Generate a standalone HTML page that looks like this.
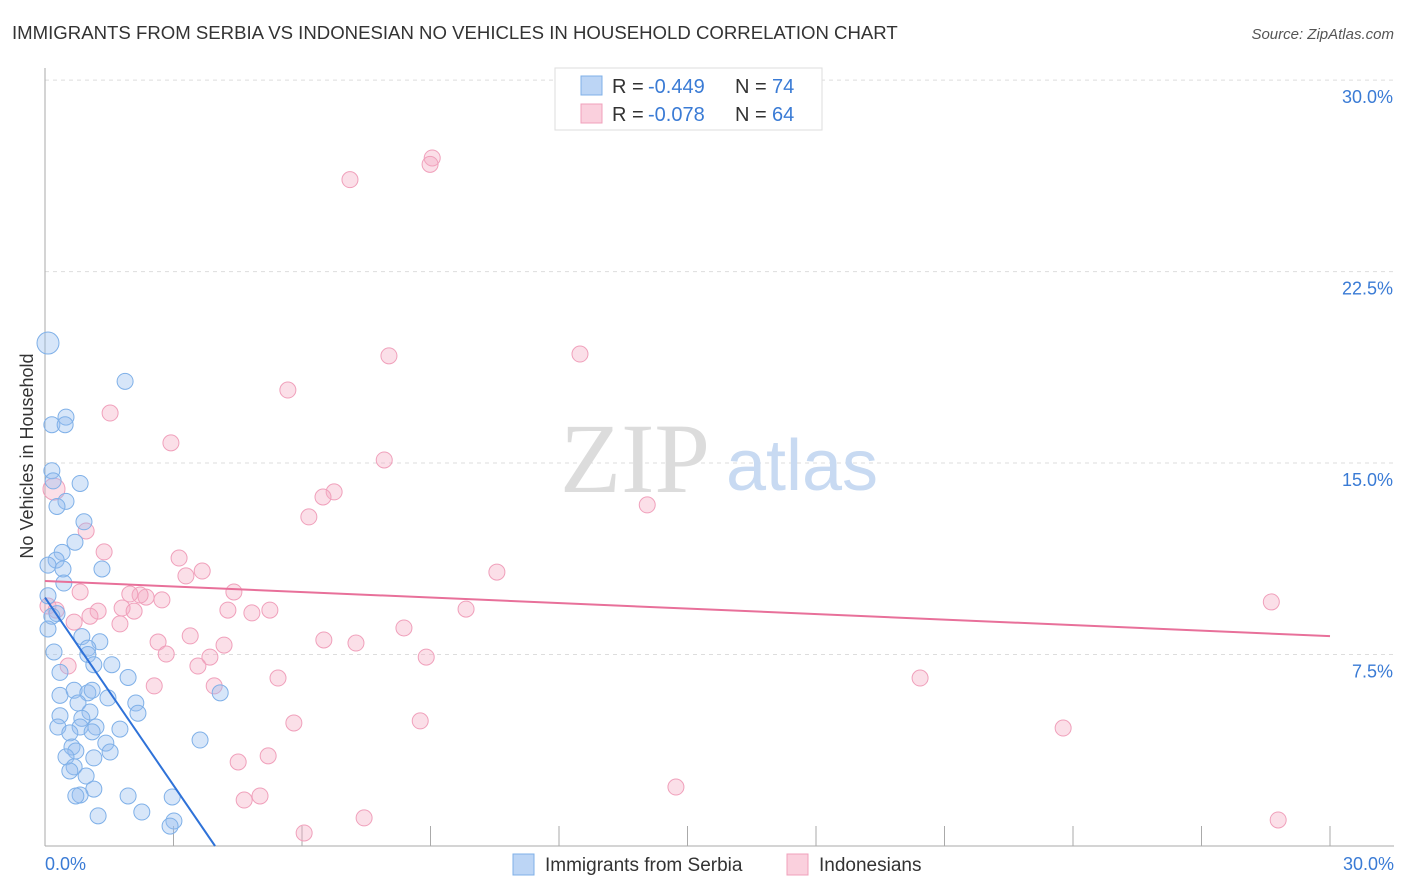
<!DOCTYPE html>
<html><head><meta charset="utf-8"><style>
body{margin:0;background:#fff;font-family:"Liberation Sans",sans-serif;}
svg{display:block}
</style></head><body>
<svg width="1406" height="892">
<text x="12" y="39" font-size="18.6" fill="#333">IMMIGRANTS FROM SERBIA VS INDONESIAN NO VEHICLES IN HOUSEHOLD CORRELATION CHART</text>
<text x="1394" y="39" font-size="15" fill="#555" font-style="italic" text-anchor="end">Source: ZipAtlas.com</text>
<text x="33" y="456" font-size="18" fill="#333" transform="rotate(-90 33 456)" text-anchor="middle">No Vehicles in Household</text>
<g id="grid"></g>
<g>
<text x="635" y="492" font-size="100" font-family="Liberation Serif,serif" fill="#dcdcdc" text-anchor="middle">ZIP</text>
<text x="802" y="490" font-size="72" fill="#c8daf2" text-anchor="middle">atlas</text>
</g>
<g id="pts"></g>
<g id="lines"></g>
<g>
<rect x="555" y="68" width="267" height="62" fill="#fff" stroke="#ddd"/>
<rect x="581" y="76" width="21" height="19" fill="#bcd5f5" stroke="#7fb0e8"/>
<rect x="581" y="104" width="21" height="19" fill="#fad0dd" stroke="#f0a0bb"/>
<text x="612" y="93" font-size="20" fill="#333">R =</text>
<text x="648" y="93" font-size="20" fill="#3a7bd5">-0.449</text>
<text x="735" y="93" font-size="20" fill="#333">N =</text>
<text x="772" y="93" font-size="20" fill="#3a7bd5">74</text>
<text x="612" y="121" font-size="20" fill="#333">R =</text>
<text x="648" y="121" font-size="20" fill="#3a7bd5">-0.078</text>
<text x="735" y="121" font-size="20" fill="#333">N =</text>
<text x="772" y="121" font-size="20" fill="#3a7bd5">64</text>
</g>
<g>
<rect x="513" y="854" width="21" height="21" fill="#bcd5f5" stroke="#7fb0e8"/>
<text x="545" y="871" font-size="19" fill="#333">Immigrants from Serbia</text>
<rect x="787" y="854" width="21" height="21" fill="#fad0dd" stroke="#f0a0bb"/>
<text x="819" y="871" font-size="19" fill="#333">Indonesians</text>
</g>
</svg>
<script>
const yTicks=[7.5,15,22.5,30];
const yTickLabels=["7.5%","15.0%","22.5%","30.0%"];
const xTicks=[0,3,6,9,12,15,18,21,24,27,30];
const serbiaX=[0.07,1.87,0.49,0.16,0.47,0.16,0.19,0.82,0.49,0.28,0.91,0.70,0.40,0.26,0.07,0.42,1.33,0.44,0.07,0.28,0.16,0.07,0.86,1.28,1.0,0.21,1.0,1.14,1.56,0.35,1.94,0.35,0.68,1.0,1.1,1.47,4.09,2.12,0.77,1.05,2.17,0.35,0.86,0.30,0.82,1.19,1.75,1.1,0.58,3.62,0.63,1.42,0.72,1.52,0.49,1.14,0.68,0.58,0.96,1.14,0.82,0.72,1.94,2.97,2.26,1.24,3.01,2.92];
const serbiaY=[19.7,18.2,16.8,16.5,16.5,14.7,14.3,14.2,13.5,13.3,12.7,11.9,11.5,11.2,11.0,10.85,10.85,10.3,9.8,9.1,9.0,8.5,8.2,8.0,7.75,7.6,7.5,7.1,7.1,6.8,6.6,5.9,6.1,6.0,6.1,5.8,6.0,5.6,5.6,5.25,5.2,5.1,5.0,4.66,4.66,4.66,4.58,4.47,4.43,4.15,3.88,4.03,3.72,3.68,3.49,3.45,3.1,2.94,2.74,2.23,2.0,1.96,1.96,1.92,1.33,1.18,0.98,0.78];
const indoX=[9.04,8.99,7.12,8.03,12.49,5.67,1.52,2.94,7.92,14.06,6.75,6.49,6.16,0.96,1.38,3.13,3.67,3.29,10.55,0.21,0.82,4.41,2.36,2.22,1.98,2.73,28.63,1.8,1.24,2.08,4.27,5.25,4.83,9.83,0.07,0.26,1.05,0.68,1.75,8.38,3.39,2.64,6.51,7.26,4.18,2.83,3.85,8.9,0.54,3.57,5.44,20.43,2.55,3.95,5.81,8.76,23.77,5.21,4.51,5.02,4.65,14.73,7.45,6.05,28.79];
const indoY=[26.95,26.7,26.1,19.2,19.27,17.86,16.96,15.79,15.12,13.36,13.87,13.67,12.89,12.34,11.52,11.28,10.77,10.58,10.73,13.98,9.95,9.95,9.75,9.83,9.87,9.64,9.56,9.32,9.2,9.2,9.24,9.24,9.13,9.28,9.4,9.24,9.0,8.77,8.7,8.54,8.23,7.99,8.07,7.95,7.87,7.52,7.4,7.4,7.05,7.05,6.58,6.58,6.27,6.27,4.82,4.9,4.62,3.53,3.29,1.96,1.8,2.31,1.1,0.51,1.02];
const serbiaTrend=[[0,9.73],[3.97,0]];
const indoTrend=[[0,10.38],[30,8.22]];
const NS="http://www.w3.org/2000/svg";
const X=v=>45+v*1285/30, Y=v=>846-v*25.53;
function mk(t,a,p){const e=document.createElementNS(NS,t);for(const k in a)e.setAttribute(k,a[k]);p.appendChild(e);return e;}
const g=document.getElementById('grid');
yTicks.forEach((t,i)=>{
 const l=mk('line',{x1:45,x2:1394,y1:Y(t),y2:Y(t),stroke:'#ddd','stroke-dasharray':'4,4'},g);
 
 
 const tx=mk('text',{x:1393,y:Y(t)+23,'font-size':18,fill:'#3a7bd5','text-anchor':'end'},g);
 tx.textContent=yTickLabels[i];
 
 
});
const ax=mk('line',{x1:45,x2:1394,y1:846,y2:846,stroke:'#aaa'},g);


const ay=mk('line',{x1:45,x2:45,y1:68,y2:846,stroke:'#aaa'},g);


xTicks.forEach(t=>{
 const l=mk('line',{x1:X(t),x2:X(t),y1:826,y2:846,stroke:'#aaa'},g);
 
 
});
const x0=mk('text',{x:45,y:870,'font-size':18,fill:'#3a7bd5'},g);x0.textContent='0.0%';


const x1=mk('text',{x:1394,y:870,'font-size':18,fill:'#3a7bd5','text-anchor':'end'},g);x1.textContent='30.0%';


const p=document.getElementById('pts');
indoX.forEach((v,i)=>{
 const c=mk('circle',{cx:X(v),cy:Y(indoY[i]),r:i==19?11:8,fill:'rgba(245,170,195,0.38)',stroke:'#f0a0bb','stroke-width':1},p);
 
 
});
serbiaX.forEach((v,i)=>{
 const c=mk('circle',{cx:X(v),cy:Y(serbiaY[i]),r:i==0?11:8,fill:'rgba(150,190,240,0.38)',stroke:'#7fb0e8','stroke-width':1},p);
 
 
});
const L=document.getElementById('lines');
const t1=mk('line',{x1:X(serbiaTrend[0][0]),y1:Y(serbiaTrend[0][1]),x2:X(serbiaTrend[1][0]),y2:Y(serbiaTrend[1][1]),stroke:'#2f72d8','stroke-width':2},L);


const t2=mk('line',{x1:X(indoTrend[0][0]),y1:Y(indoTrend[0][1]),x2:X(indoTrend[1][0]),y2:Y(indoTrend[1][1]),stroke:'#e8709a','stroke-width':2},L);


</script>
</body></html>
